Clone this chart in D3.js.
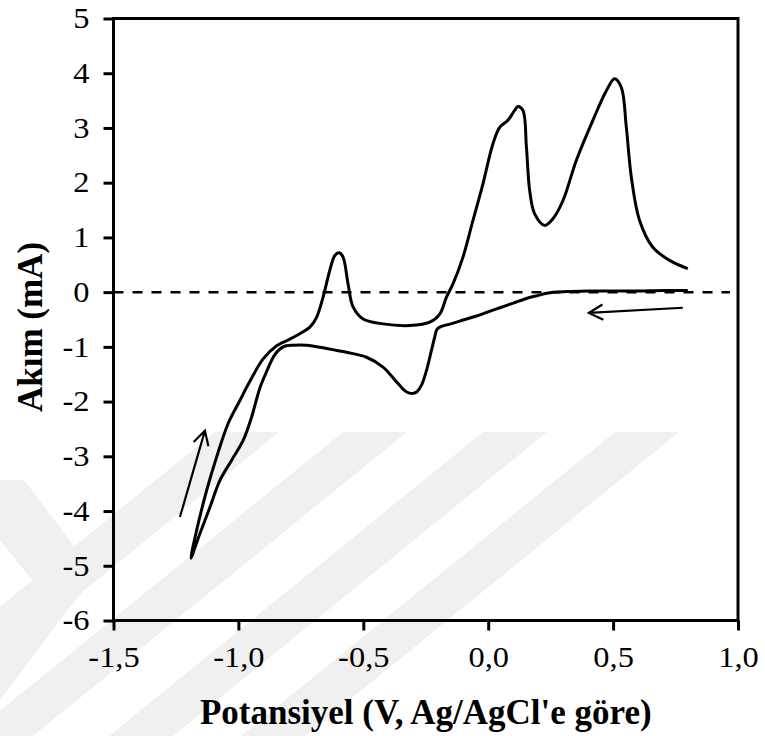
<!DOCTYPE html>
<head>
   <meta charset="utf-8">
   <script src="https://d3js.org/d3.v7.min.js"></script>
   <style>
   body{ margin: 0; background: #fff; }
   .tick line{
      stroke: #000;
      stroke-width: 3px;
   }
   path.domain{
      display: none;
   }
   </style>
</head>

<body>
   <script>
const width  = 765;
const height = 736;
const fontFam = '"Liberation Serif"';
const labelStretch = 1.12; // tick labels in the original are a bit wide

// x ticks (V) and y ticks (mA)
const xTicks = [-1.5, -1.0, -0.5, 0.0, 0.5, 1.0];
const yTicks = [-6, -5, -4, -3, -2, -1, 0, 1, 2, 3, 4, 5];

// cyclic voltammogram, in sweep order (starts at 0.8 V going negative)
const potential = [
   0.799, 0.70, 0.60, 0.50, 0.40, 0.32, 0.26, 0.234, 0.20, 0.15, 0.10, 0.05, 0.00, -0.05, -0.10, -0.15, -0.19,
   -0.205, -0.214, -0.227, -0.247, -0.267, -0.285, -0.301, -0.318, -0.334, -0.367, -0.421, -0.487, -0.567, -0.647, -0.727, -0.781, -0.821,
   -0.854, -0.887, -0.914, -0.947, -0.981, -1.027, -1.074, -1.114, -1.154, -1.190,
   -1.167, -1.127, -1.087, -1.041, -0.994, -0.954, -0.901, -0.847, -0.794, -0.754, -0.714, -0.687, -0.661, -0.634, -0.614, -0.597,
   -0.581, -0.561, -0.541, -0.501, -0.421, -0.314, -0.234, -0.194, -0.167, -0.141, -0.101, -0.061, -0.021, 0.019, 0.046, 0.079,
   0.106, 0.119, 0.139, 0.153, 0.166, 0.186, 0.226, 0.259, 0.299, 0.353, 0.419, 0.473, 0.506, 0.533, 0.553, 0.573, 0.606, 0.659,
   0.726, 0.799
];
const current = [
   0.03, 0.03, 0.02, 0.02, 0.02, 0.01, 0.00, -0.02, -0.06, -0.12, -0.20, -0.28, -0.36, -0.44, -0.51, -0.58, -0.63,
   -0.68, -0.82, -1.06, -1.43, -1.70, -1.82, -1.85, -1.84, -1.80, -1.64, -1.37, -1.19, -1.10, -1.03, -0.97, -0.97, -1.00,
   -1.14, -1.45, -1.75, -2.28, -2.71, -3.07, -3.44, -3.93, -4.41, -4.86,
   -4.35, -3.62, -3.01, -2.40, -1.98, -1.63, -1.22, -0.98, -0.86, -0.76, -0.64, -0.46, -0.09, 0.40, 0.67, 0.72,
   0.64, 0.15, -0.27, -0.49, -0.58, -0.61, -0.55, -0.40, -0.09, 0.15, 0.64, 1.31, 1.98, 2.71, 3.01, 3.14,
   3.32, 3.39, 3.32, 2.65, 1.86, 1.43, 1.22, 1.34, 1.67, 2.41, 3.14, 3.68, 3.90, 3.74, 3.01, 2.10, 1.31, 0.82,
   0.58, 0.43
];

// sweep direction arrows: tail -> tip (V, mA)
const arrowTailV = [-1.234, 0.779];
const arrowTailI = [-4.11, -0.285];
const arrowTipV  = [-1.134, 0.403];
const arrowTipI  = [-2.53, -0.38];

// background watermark bands (top-right x of each "/" band)
const bandTops = [279, 407, 547, 679];

const xTitle = "Potansiyel (V, Ag/AgCl'e göre)";
const yTitle = "Akım (mA)";

let svg = d3.select("body").append("svg")
   .attr("width", width)
   .attr("height", height);

const x = d3.scaleLinear().domain([-1.5, 1.0]).range([113.5, 738]);
const y = d3.scaleLinear().domain([-6, 5]).range([620.5, 18.5]);

// faint watermark
const wm = svg.append('g').attr('fill', '#f0f0f0');
bandTops.forEach(t => {
   const top = 432, bot = height, k = 1.23, w = 64;
   wm.append('path')
      .attr('d', `M${t-w},${top}L${t},${top}L${t-k*(bot-top)},${bot}L${t-w-k*(bot-top)},${bot}Z`);
});
wm.append('path').attr('d', `M0,480L24,480L96,575L66,612L0,700L0,640L40,590L0,540Z`);

// frame
svg.append('rect')
   .attr('x', x(-1.5))
   .attr('y', y(5))
   .attr('width', x(1.0) - x(-1.5))
   .attr('height', y(-6) - y(5))
   .attr('fill', 'none')
   .attr('stroke', '#000')
   .attr('stroke-width', 3);

const xAxis = d3.axisBottom(x)
   .tickValues(xTicks)
   .tickSize(10)
   .tickSizeOuter(0)
   .tickPadding(16)
   .tickFormat(d => d.toFixed(1).replace('.', ','));

const yAxis = d3.axisLeft(y)
   .tickValues(yTicks)
   .tickSize(10)
   .tickSizeOuter(0)
   .tickPadding(14)
   .tickFormat(d => String(d));

svg.append('g')
   .attr('transform', `translate(0, ${y(-6)})`)
   .call(xAxis);

svg.append('g')
   .attr('transform', `translate(${x(-1.5)}, 0)`)
   .call(yAxis);

svg.selectAll('.tick text')
   .style('font-family', fontFam)
   .style('font-size', '29px')
   .style('fill', '#000')
   .attr('transform', function(){
      const tx = +(this.getAttribute('x') || 0);
      return `translate(${tx},0) scale(${labelStretch},1) translate(${-tx},0)`;
   });

// zero line
svg.append('line')
   .attr('x1', x(-1.5))
   .attr('x2', x(1.0) - 8)
   .attr('y1', y(0))
   .attr('y2', y(0))
   .attr('stroke', '#000')
   .attr('stroke-width', 2.5)
   .attr('stroke-dasharray', '10,9');

// voltammogram
const pts = potential.map((v, i) => [v, current[i]]);
svg.append('path')
   .datum(pts)
   .attr('fill', 'none')
   .attr('stroke', '#000')
   .attr('stroke-width', 3)
   .attr('stroke-linejoin', 'round')
   .attr('d', d3.line()
      .x(d => x(d[0]))
      .y(d => y(d[1]))
      .curve(d3.curveCatmullRom.alpha(0.5)));

// arrows
arrowTailV.forEach((v, i) => {
   const x0 = x(v), y0 = y(arrowTailI[i]);
   const x1 = x(arrowTipV[i]), y1 = y(arrowTipI[i]);
   const a = Math.atan2(y1 - y0, x1 - x0);
   const len = 16, spread = 0.5;
   const b1 = [x1 - len*Math.cos(a - spread), y1 - len*Math.sin(a - spread)];
   const b2 = [x1 - len*Math.cos(a + spread), y1 - len*Math.sin(a + spread)];
   svg.append('path')
      .attr('d', `M${x0},${y0}L${x1},${y1}M${b1[0]},${b1[1]}L${x1},${y1}L${b2[0]},${b2[1]}`)
      .attr('fill', 'none')
      .attr('stroke', '#000')
      .attr('stroke-width', 2.2);
});

// axis titles
svg.append('text')
   .attr('x', (x(-1.5) + x(1.0)) / 2)
   .attr('y', 724)
   .style('font-family', fontFam)
   .style('font-size', '35px')
   .style('font-weight', 700)
   .style('text-anchor', 'middle')
   .text(xTitle);

svg.append('text')
   .attr('transform', 'translate(42, 327) rotate(-90)')
   .style('font-family', fontFam)
   .style('font-size', '35px')
   .style('font-weight', 700)
   .style('text-anchor', 'middle')
   .text(yTitle);
   </script>
</body>
